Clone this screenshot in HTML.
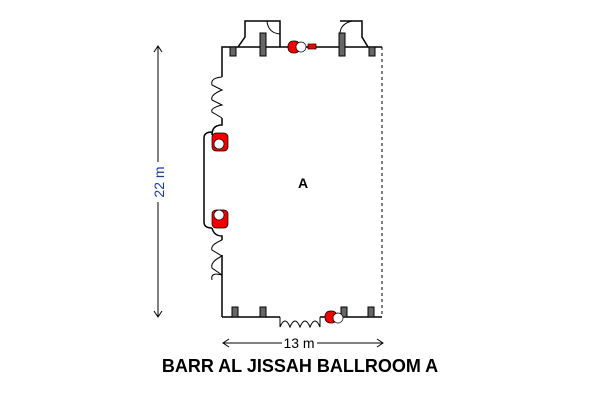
<html><body style="margin:0;background:#fff">
<svg width="600" height="400" xmlns="http://www.w3.org/2000/svg" style="font-family:'Liberation Sans',sans-serif">
<g fill="none" stroke="#000" stroke-width="1.5">
<path d="M280,47 H222 V77"/>
<path d="M280,47 H340"/>
<path d="M340,47 H382"/>
<path d="M238,47 L245,37 V21 H280 V47"/>
<path d="M368,47 L362,37 V21 H340"/>
<path d="M222,317 H280 M320,317 H382"/>
<path d="M222,255 V317"/>
<path d="M212,135 Q212,125 222,125 V118 M212,135 V132 Q204,132 204,138 V222 Q204,228 212,228 M212,228 Q214,236 222,236 V240"/>
</g>
<path d="M382,47 V317" stroke="#000" stroke-dasharray="3,3" fill="none"/>
<g fill="none" stroke="#000" stroke-width="1">
<path d="M222,77 Q210,78 212,85 L222,90 Q210,95 212,100 L222,105 Q210,108 212,112 L222,118"/>
<path d="M222,240 Q210,245 212,250 L222,256 Q210,262 212,268 L222,275 Q210,272 212,280"/>
<path d="M280,317 V327 Q285,315 290,327 Q295,315 300,327 Q305,315 310,327 Q315,315 320,327 V317"/>
<path d="M267,21 Q268,33 280,34"/>
<path d="M340,34 Q340,24 352,21"/>
</g>
<g fill="#666" stroke="#000">
<rect x="230" y="47" width="6" height="9"/><rect x="260" y="33" width="6" height="23"/>
<rect x="339" y="33" width="6" height="23"/><rect x="369" y="47" width="6" height="9"/>
<rect x="232" y="307" width="6" height="10"/><rect x="260" y="307" width="6" height="10"/>
<rect x="341" y="307" width="6" height="10"/><rect x="368" y="307" width="6" height="10"/>
</g>
<g fill="#e00" stroke="#000" stroke-width="0.7">
<rect x="288" y="41" width="12" height="12" rx="5"/><circle cx="301" cy="47" r="5" fill="#fff"/><rect x="308" y="44" width="8" height="5"/>
<rect x="212" y="133" width="16" height="18" rx="4"/><circle cx="219" cy="144" r="5" fill="#fff"/>
<rect x="212" y="210" width="16" height="18" rx="4"/><circle cx="219" cy="215" r="5" fill="#fff"/>
<rect x="325" y="311" width="12" height="12" rx="5"/><circle cx="338" cy="318" r="5" fill="#fff"/>
</g>
<g stroke="#000" fill="none">
<path d="M158,46 V317 M154,52 L158,46 L162,52 M154,311 L158,317 L162,311"/>
<path d="M223,343 H282 M317,343 H383 M229,339 L223,343 L229,347 M377,339 L383,343 L377,347"/>
</g>
<rect x="150" y="162" width="16" height="40" fill="#fff"/>
<text x="299" y="348" font-size="14" text-anchor="middle" fill="#000">13 m</text>
<text transform="translate(164,182) rotate(-90)" font-size="14" text-anchor="middle" fill="#1a3c8c">22 m</text>
<text x="303" y="188" font-size="14" font-weight="bold" text-anchor="middle">A</text>
<text x="300" y="372" font-size="18" font-weight="bold" text-anchor="middle">BARR AL JISSAH BALLROOM A</text>
</svg>
</body></html>
